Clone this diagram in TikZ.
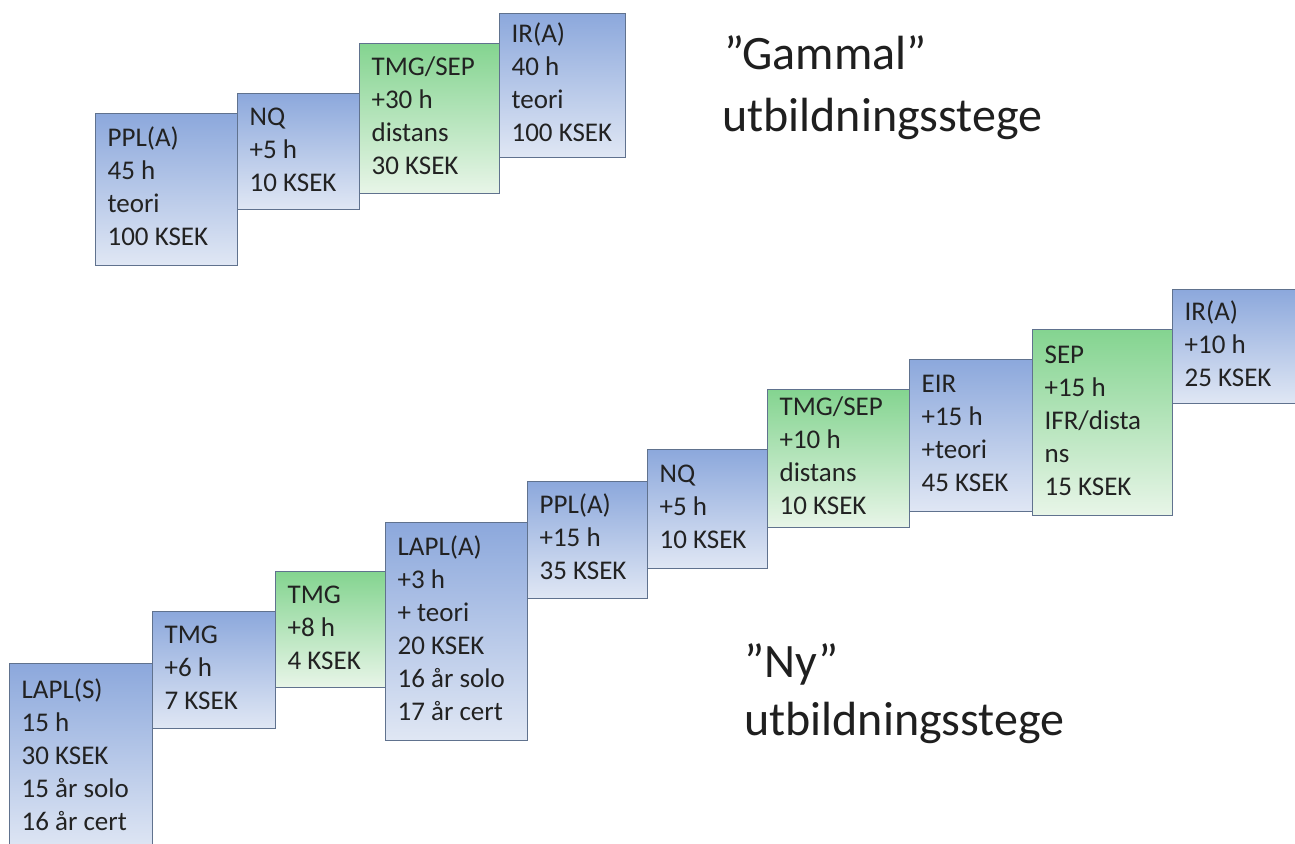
\documentclass[tikz,border=0pt]{standalone}
\usepackage{fontspec}
\setmainfont{Carlito}
\definecolor{bluetop}{RGB}{140,168,220}
\definecolor{bluebot}{RGB}{224,231,244}
\definecolor{greentop}{RGB}{132,212,144}
\definecolor{greenbot}{RGB}{232,245,232}
\definecolor{edgecol}{RGB}{96,114,142}
\definecolor{txt}{RGB}{34,34,34}
\tikzset{
  stair/.style={draw=edgecol, line width=1.2pt, anchor=north west, inner xsep=0pt, inner ysep=0pt,
    font=\fontsize{27}{33}\selectfont, text=txt},
  bluebox/.style={stair, top color=bluetop, bottom color=bluebot},
  greenbox/.style={stair, top color=greentop, bottom color=greenbot},
  titletext/.style={anchor=base west, inner sep=0pt, font=\fontsize{48}{60}\selectfont, text=black!88},
}
% name, style, x, y, w, h, text
\newcommand{\stepnode}[7]{%
  \node[#2, minimum width=#5pt, minimum height=#6pt] (#1) at (#3,#4)
    {\makebox[#5pt][l]{\hspace*{12pt}\begin{tabular}[c]{@{}l@{}}#7\end{tabular}}};}
\begin{document}
\begin{tikzpicture}[x=1pt,y=-1pt]
\useasboundingbox (0,0) rectangle (1295,843);
\clip (0,0) rectangle (1295,843);
% old ladder
\stepnode{pplA}{bluebox}{95}{113}{142}{152}{PPL(A)\\45 h\\teori\\100 KSEK}
\stepnode{nqA}{bluebox}{237}{93}{122}{116}{NQ\\+5 h\\10 KSEK}
\stepnode{tmgsepA}{greenbox}{359}{43}{140}{150}{TMG/SEP\\+30 h\\distans\\30 KSEK}
\stepnode{irA}{bluebox}{499}{13}{126}{144}{IR(A)\\40 h\\teori\\100 KSEK}
% new ladder
\stepnode{laplS}{bluebox}{9}{663}{143}{188}{LAPL(S)\\15 h\\30 KSEK\\15 år solo\\16 år cert}
\stepnode{tmgB}{bluebox}{152}{611}{123}{117}{TMG\\+6 h\\7 KSEK}
\stepnode{tmgC}{greenbox}{275}{571}{110}{116}{TMG\\+8 h\\4 KSEK}
\stepnode{laplA}{bluebox}{385}{522}{142}{218}{LAPL(A)\\+3 h\\+ teori\\20 KSEK\\16 år solo\\17 år cert}
\stepnode{pplB}{bluebox}{527}{481}{120}{117}{PPL(A)\\+15 h\\35 KSEK}
\stepnode{nqB}{bluebox}{647}{449}{120}{119}{NQ\\+5 h\\10 KSEK}
\stepnode{tmgsepB}{greenbox}{767}{389}{142}{138}{TMG/SEP\\+10 h\\distans\\10 KSEK}
\stepnode{eir}{bluebox}{909}{359}{123}{152}{EIR\\+15 h\\+teori\\45 KSEK}
\stepnode{sep}{greenbox}{1032}{329}{140}{186}{SEP\\+15 h\\IFR/dista\\ns\\15 KSEK}
\stepnode{irB}{bluebox}{1172}{289}{130}{114}{IR(A)\\+10 h\\25 KSEK}
% titles
\node[titletext] (gam1) at (724,70) {”Gammal”};
\node[titletext] (gam2) at (722,131) {utbildningsstege};
\node[titletext] (ny1) at (744,677) {”Ny”};
\node[titletext] (ny2) at (744,735) {utbildningsstege};
\end{tikzpicture}
\end{document}
